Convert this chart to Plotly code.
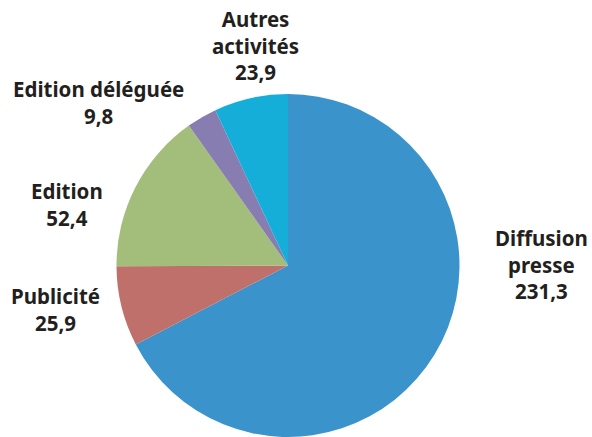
import plotly.graph_objects as go

categories = ["Diffusion presse", "Publicité", "Edition", "Edition déléguée", "Autres activités"]
display_labels = ["Diffusion<br>presse", "Publicité", "Edition", "Edition déléguée", "Autres<br>activités"]
values = [231.3, 25.9, 52.4, 9.8, 23.9]
colors = ["#3B93CC", "#C0706A", "#A3BD7B", "#877DB0", "#14AED9"]

# label anchor positions (pixels in 592x437 canvas)
label_pos = [(541, 264), (55, 309), (67, 204), (98, 102), (255, 45)]

W, H = 592, 437

fig = go.Figure(go.Pie(
    labels=categories,
    values=values,
    marker=dict(colors=colors, line=dict(width=0)),
    sort=False,
    direction="clockwise",
    rotation=0,
    textinfo="none",
    hoverinfo="label+value",
    showlegend=False,
    domain=dict(x=[116 / W, 460 / W], y=[0.0, 343 / H]),
))

annotations = []
for lab, v, (px, py) in zip(display_labels, values, label_pos):
    annotations.append(dict(
        x=px / W, y=1 - py / H, xref="paper", yref="paper",
        xanchor="center", yanchor="middle", showarrow=False,
        align="center",
        text=f"<b>{lab}<br>{str(v).replace('.', ',')}</b>",
        font=dict(family="Noto Sans", size=20.5, color="#231F20"),
    ))

fig.update_layout(
    width=W, height=H,
    margin=dict(l=0, r=0, t=0, b=0),
    paper_bgcolor="white",
    plot_bgcolor="white",
    annotations=annotations,
)

fig.write_html("out.html", config={"displayModeBar": False},
               post_script="document.body.style.margin='0';")
